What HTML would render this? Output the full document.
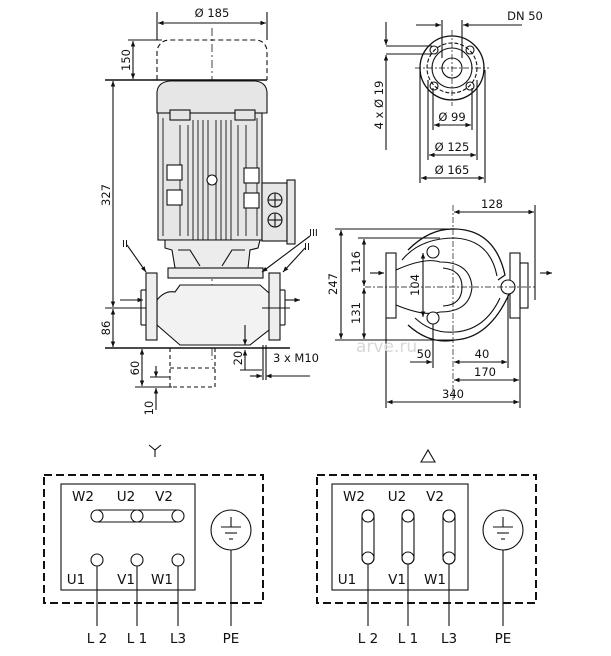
<!DOCTYPE html>
<html><head><meta charset="utf-8"><style>
html,body{margin:0;padding:0;background:#fff}
svg{display:block}
text{font-family:"DejaVu Sans","Liberation Sans",sans-serif;fill:#111}
</style></head><body>
<svg width="611" height="656" viewBox="0 0 611 656" xmlns="http://www.w3.org/2000/svg">
<defs>
<marker id="a" viewBox="0 0 10 10" refX="10" refY="5" markerWidth="7" markerHeight="5" orient="auto-start-reverse"><path d="M0,1 L10,5 L0,9z" fill="#111"/></marker>
</defs>
<g stroke="#111" stroke-width="1.1" fill="none">
<line x1="157" y1="12" x2="157" y2="40"/><line x1="267" y1="12" x2="267" y2="40"/>
<line x1="158" y1="23" x2="266" y2="23" marker-start="url(#a)" marker-end="url(#a)"/>
<line x1="212" y1="28" x2="212" y2="360" stroke-dasharray="8,3,2,3" stroke-width="0.8"/>
<path d="M157,80 L157,50 Q160,40 170,40 L255,40 Q265,40 267,50 L267,80" stroke-dasharray="5,3"/>
<line x1="128" y1="40" x2="162" y2="40"/>
<line x1="133" y1="41" x2="133" y2="79" marker-start="url(#a)" marker-end="url(#a)"/>
<line x1="105" y1="80" x2="267" y2="80" stroke-width="1.4"/>
<line x1="113" y1="81" x2="113" y2="307" marker-start="url(#a)" marker-end="url(#a)"/>
<line x1="105" y1="308" x2="150" y2="308"/>
<line x1="113" y1="309" x2="113" y2="347" marker-start="url(#a)" marker-end="url(#a)"/>
<line x1="105" y1="348" x2="290" y2="348" stroke-width="1.4"/>
<path d="M157,113 L157,92 Q158,82 170,81 L255,81 Q266,82 267,92 L267,113 Z" fill="#e6e6e6"/>
<rect x="158" y="113" width="104" height="127" fill="#e6e6e6"/>
<rect x="170" y="110" width="20" height="10" fill="#e6e6e6"/>
<rect x="235" y="110" width="20" height="10" fill="#e6e6e6"/>
<g stroke-width="0.9">
<line x1="163" y1="118" x2="163" y2="236"/><line x1="180" y1="125" x2="180" y2="236"/><line x1="188" y1="125" x2="188" y2="236"/>
<line x1="193" y1="120" x2="193" y2="240"/><line x1="198" y1="120" x2="198" y2="240"/><line x1="203" y1="120" x2="203" y2="240"/><line x1="208" y1="120" x2="208" y2="240"/>
<line x1="216" y1="120" x2="216" y2="240"/><line x1="221" y1="120" x2="221" y2="240"/><line x1="226" y1="120" x2="226" y2="240"/><line x1="231" y1="120" x2="231" y2="240"/>
<line x1="238" y1="125" x2="238" y2="236"/><line x1="246" y1="125" x2="246" y2="236"/><line x1="257" y1="118" x2="257" y2="236"/>
</g>
<rect x="167" y="165" width="15" height="15" fill="#fff"/><rect x="167" y="190" width="15" height="15" fill="#fff"/>
<rect x="244" y="168" width="15" height="15" fill="#fff"/><rect x="244" y="193" width="15" height="15" fill="#fff"/>
<circle cx="212" cy="180" r="5" fill="#fff"/>
<rect x="262" y="183" width="25" height="58" fill="#e6e6e6"/>
<rect x="287" y="180" width="8" height="64" fill="#e6e6e6"/>
<circle cx="275" cy="200" r="7"/><circle cx="275" cy="220" r="7"/>
<line x1="268" y1="200" x2="282" y2="200"/><line x1="275" y1="193" x2="275" y2="207"/>
<line x1="268" y1="220" x2="282" y2="220"/><line x1="275" y1="213" x2="275" y2="227"/>
<path d="M165,240 L260,240 L258,248 L250,250 L248,268 L175,268 L172,250 L165,248 Z" fill="#ececec"/>
<path d="M178,250 L190,250 L200,266 M245,250 L232,250 L222,266"/>
<rect x="168" y="268" width="95" height="10" fill="#ececec"/>
<path d="M157,300 Q165,290 175,292 L180,285 L260,285 L269,293 L269,330 L250,345 L180,345 L157,325 Z" fill="#f2f2f2"/>
<rect x="146" y="273" width="11" height="67" fill="#eeeeee"/>
<rect x="269" y="273" width="11" height="67" fill="#eeeeee"/>
<line x1="141" y1="290" x2="146" y2="290"/><line x1="141" y1="290" x2="141" y2="325"/><line x1="141" y1="325" x2="146" y2="325"/>
<line x1="280" y1="290" x2="285" y2="290"/><line x1="285" y1="290" x2="285" y2="325"/><line x1="280" y1="325" x2="285" y2="325"/>
<line x1="120" y1="300" x2="143" y2="300" marker-end="url(#a)"/>
<line x1="285" y1="300" x2="300" y2="300" marker-end="url(#a)"/>
<line x1="262" y1="308" x2="290" y2="308"/>
<line x1="127" y1="245" x2="146" y2="272" marker-end="url(#a)"/>
<line x1="305" y1="248" x2="283" y2="272" marker-end="url(#a)"/>
<line x1="310" y1="236" x2="262" y2="272" marker-end="url(#a)"/>
<path d="M170,348 L170,387 L215,387 L215,348" stroke-dasharray="4,3"/>
<line x1="170" y1="368" x2="215" y2="368" stroke-dasharray="4,3"/>
<line x1="135" y1="387" x2="172" y2="387"/>
<line x1="142" y1="349" x2="142" y2="386" marker-start="url(#a)" marker-end="url(#a)"/>
<line x1="150" y1="377" x2="170" y2="377"/>
<line x1="156" y1="366" x2="156" y2="377" marker-end="url(#a)"/>
<line x1="156" y1="410" x2="156" y2="388" marker-end="url(#a)"/>
<line x1="245" y1="325" x2="245" y2="345" marker-end="url(#a)"/>
<line x1="245" y1="370" x2="245" y2="350" marker-end="url(#a)"/>
<line x1="240" y1="370" x2="262" y2="370"/>
<line x1="250" y1="376" x2="262" y2="376" marker-end="url(#a)"/>
<line x1="310" y1="376" x2="266" y2="376" marker-end="url(#a)"/>
<line x1="263" y1="345" x2="263" y2="380"/><line x1="266" y1="345" x2="266" y2="380"/>

<circle cx="452" cy="68" r="32" stroke-width="1.3"/>
<circle cx="452" cy="68" r="25" stroke-dasharray="4,2"/>
<circle cx="452" cy="68" r="20"/>
<circle cx="452" cy="68" r="10"/>
<circle cx="434" cy="50" r="4"/><circle cx="470" cy="50" r="4"/><circle cx="434" cy="86" r="4"/><circle cx="470" cy="86" r="4"/>
<line x1="415" y1="68" x2="489" y2="68" stroke-dasharray="6,2,2,2" stroke-width="0.7"/>
<line x1="452" y1="30" x2="452" y2="106" stroke-dasharray="6,2,2,2" stroke-width="0.7"/>
<line x1="442" y1="20" x2="442" y2="58"/><line x1="462" y1="20" x2="462" y2="58"/>
<line x1="416" y1="25" x2="441" y2="25" marker-end="url(#a)"/>
<line x1="522" y1="25" x2="463" y2="25" marker-end="url(#a)"/>
<line x1="386" y1="46" x2="432" y2="46"/><line x1="386" y1="54" x2="432" y2="54"/>
<line x1="386" y1="22" x2="386" y2="45" marker-end="url(#a)"/>
<line x1="386" y1="150" x2="386" y2="55" marker-end="url(#a)"/>
<line x1="433" y1="88" x2="433" y2="130"/><line x1="472" y1="88" x2="472" y2="130"/>
<line x1="434" y1="125" x2="471" y2="125" marker-start="url(#a)" marker-end="url(#a)"/>
<line x1="428" y1="80" x2="428" y2="160"/><line x1="477" y1="80" x2="477" y2="160"/>
<line x1="429" y1="155" x2="476" y2="155" marker-start="url(#a)" marker-end="url(#a)"/>
<line x1="420" y1="70" x2="420" y2="183"/><line x1="485" y1="70" x2="485" y2="183"/>
<line x1="421" y1="178" x2="484" y2="178" marker-start="url(#a)" marker-end="url(#a)"/>

<path d="M408,250 Q430,228 455,229 Q495,230 505,275 L498,280" stroke-width="1.3"/>
<path d="M402,260 Q420,238 455,238 Q490,240 497,276" />
<path d="M396,270 Q425,257 440,262 Q470,262 472,287 Q470,312 440,312 Q425,317 396,305" fill="#fff"/>
<path d="M443,268 Q462,270 462,287 Q462,305 443,306"/>
<path d="M408,325 Q430,345 455,340 Q490,338 510,292" stroke-width="1.3"/>
<path d="M415,318 Q432,334 455,332 Q485,330 500,298"/>
<rect x="386" y="253" width="10" height="65" fill="#fff"/>
<rect x="510" y="253" width="10" height="65" fill="#fff"/>
<rect x="520" y="263" width="8" height="45"/>
<circle cx="508" cy="287" r="7" fill="#fff"/>
<circle cx="433" cy="252" r="6" fill="#fff"/><circle cx="433" cy="318" r="6" fill="#fff"/>
<line x1="365" y1="287" x2="535" y2="287" stroke-dasharray="6,2,2,2" stroke-width="0.7"/>
<line x1="453" y1="205" x2="453" y2="400" stroke-dasharray="6,2,2,2" stroke-width="0.7"/>
<line x1="370" y1="273" x2="384" y2="273" marker-end="url(#a)"/>
<line x1="540" y1="273" x2="552" y2="273" marker-end="url(#a)"/>
<line x1="535" y1="205" x2="535" y2="300"/>
<line x1="454" y1="212" x2="534" y2="212" marker-start="url(#a)" marker-end="url(#a)"/>
<line x1="335" y1="229" x2="455" y2="229"/><line x1="335" y1="340" x2="455" y2="340"/>
<line x1="341" y1="230" x2="341" y2="339" marker-start="url(#a)" marker-end="url(#a)"/>
<line x1="358" y1="238" x2="440" y2="238"/>
<line x1="364" y1="239" x2="364" y2="286" marker-start="url(#a)" marker-end="url(#a)"/>
<line x1="364" y1="288" x2="364" y2="339" marker-start="url(#a)" marker-end="url(#a)"/>
<line x1="423" y1="253" x2="423" y2="317" marker-start="url(#a)" marker-end="url(#a)"/>
<line x1="433" y1="324" x2="433" y2="368"/><line x1="508" y1="295" x2="508" y2="368"/>
<line x1="410" y1="362" x2="432" y2="362" marker-end="url(#a)"/>
<line x1="454" y1="362" x2="507" y2="362" marker-start="url(#a)" marker-end="url(#a)"/>
<line x1="520" y1="318" x2="520" y2="408"/>
<line x1="454" y1="380" x2="519" y2="380" marker-start="url(#a)" marker-end="url(#a)"/>
<line x1="386" y1="318" x2="386" y2="408"/>
<line x1="387" y1="402" x2="519" y2="402" marker-start="url(#a)" marker-end="url(#a)"/>

<path d="M155,449 L155,457 M149,445 L155,450 L161,445"/>
<rect x="44" y="475" width="219" height="128" stroke-width="2" stroke-dasharray="8,4"/>
<rect x="61" y="484" width="134" height="106"/>
<path d="M97,510 L178,510 M97,522 L178,522"/>
<circle cx="97" cy="516" r="6" fill="#fff"/><circle cx="137" cy="516" r="6" fill="#fff"/><circle cx="178" cy="516" r="6" fill="#fff"/>
<circle cx="97" cy="560" r="6" fill="#fff"/><circle cx="137" cy="560" r="6" fill="#fff"/><circle cx="178" cy="560" r="6" fill="#fff"/>
<line x1="97" y1="566" x2="97" y2="626"/><line x1="137" y1="566" x2="137" y2="626"/><line x1="178" y1="566" x2="178" y2="626"/>
<circle cx="231" cy="530" r="20"/>
<line x1="221" y1="527" x2="241" y2="527"/><line x1="225" y1="533" x2="237" y2="533"/><line x1="229" y1="539" x2="233" y2="539"/>
<line x1="231" y1="517" x2="231" y2="527"/>
<line x1="231" y1="550" x2="231" y2="626"/>

<path d="M421,462 L428,450 L435,462 Z"/>
<rect x="317" y="475" width="219" height="128" stroke-width="2" stroke-dasharray="8,4"/>
<rect x="332" y="484" width="136" height="106"/>
<rect x="362" y="510" width="12" height="54" rx="6"/><rect x="402" y="510" width="12" height="54" rx="6"/><rect x="443" y="510" width="12" height="54" rx="6"/>
<circle cx="368" cy="516" r="6"/><circle cx="408" cy="516" r="6"/><circle cx="449" cy="516" r="6"/>
<circle cx="368" cy="558" r="6"/><circle cx="408" cy="558" r="6"/><circle cx="449" cy="558" r="6"/>
<line x1="368" y1="564" x2="368" y2="626"/><line x1="408" y1="564" x2="408" y2="626"/><line x1="449" y1="564" x2="449" y2="626"/>
<circle cx="503" cy="530" r="20"/>
<line x1="493" y1="527" x2="513" y2="527"/><line x1="497" y1="533" x2="509" y2="533"/><line x1="501" y1="539" x2="505" y2="539"/>
<line x1="503" y1="517" x2="503" y2="527"/>
<line x1="503" y1="550" x2="503" y2="626"/>
</g>
<g font-size="11.5">
<text x="212" y="17" text-anchor="middle">Ø 185</text>
<text transform="translate(130,60) rotate(-90)" text-anchor="middle">150</text>
<text transform="translate(110,195) rotate(-90)" text-anchor="middle">327</text>
<text transform="translate(110,328) rotate(-90)" text-anchor="middle">86</text>
<text transform="translate(139,368) rotate(-90)" text-anchor="middle">60</text>
<text transform="translate(153,408) rotate(-90)" text-anchor="middle">10</text>
<text transform="translate(242,358) rotate(-90)" text-anchor="middle">20</text>
<text x="273" y="362">3 x M10</text>
<text x="122" y="247" font-size="10">II</text>
<text x="304" y="250" font-size="10">II</text>
<text x="309" y="236" font-size="10">III</text>
<text x="525" y="20" text-anchor="middle">DN 50</text>
<text transform="translate(383,105) rotate(-90)" text-anchor="middle">4 x Ø 19</text>
<text x="452" y="121" text-anchor="middle">Ø 99</text>
<text x="452" y="151" text-anchor="middle">Ø 125</text>
<text x="452" y="174" text-anchor="middle">Ø 165</text>
<text x="492" y="208" text-anchor="middle">128</text>
<text transform="translate(337,284) rotate(-90)" text-anchor="middle">247</text>
<text transform="translate(360,262) rotate(-90)" text-anchor="middle">116</text>
<text transform="translate(360,313) rotate(-90)" text-anchor="middle">131</text>
<text transform="translate(419,285) rotate(-90)" text-anchor="middle">104</text>
<text x="424" y="358" text-anchor="middle">50</text>
<text x="482" y="358" text-anchor="middle">40</text>
<text x="485" y="376" text-anchor="middle">170</text>
<text x="453" y="398" text-anchor="middle">340</text>
</g>
<text x="356" y="352" font-size="17" style="fill:#d8d8d8">arve.ru</text>
<g font-size="13.5">
<text x="83" y="501" text-anchor="middle">W2</text><text x="126" y="501" text-anchor="middle">U2</text><text x="164" y="501" text-anchor="middle">V2</text>
<text x="76" y="584" text-anchor="middle">U1</text><text x="126" y="584" text-anchor="middle">V1</text><text x="162" y="584" text-anchor="middle">W1</text>
<text x="97" y="643" text-anchor="middle">L 2</text><text x="137" y="643" text-anchor="middle">L 1</text><text x="178" y="643" text-anchor="middle">L3</text><text x="231" y="643" text-anchor="middle">PE</text>
<text x="354" y="501" text-anchor="middle">W2</text><text x="397" y="501" text-anchor="middle">U2</text><text x="435" y="501" text-anchor="middle">V2</text>
<text x="347" y="584" text-anchor="middle">U1</text><text x="397" y="584" text-anchor="middle">V1</text><text x="435" y="584" text-anchor="middle">W1</text>
<text x="368" y="643" text-anchor="middle">L 2</text><text x="408" y="643" text-anchor="middle">L 1</text><text x="449" y="643" text-anchor="middle">L3</text><text x="503" y="643" text-anchor="middle">PE</text>
</g>
</svg>
</body></html>
